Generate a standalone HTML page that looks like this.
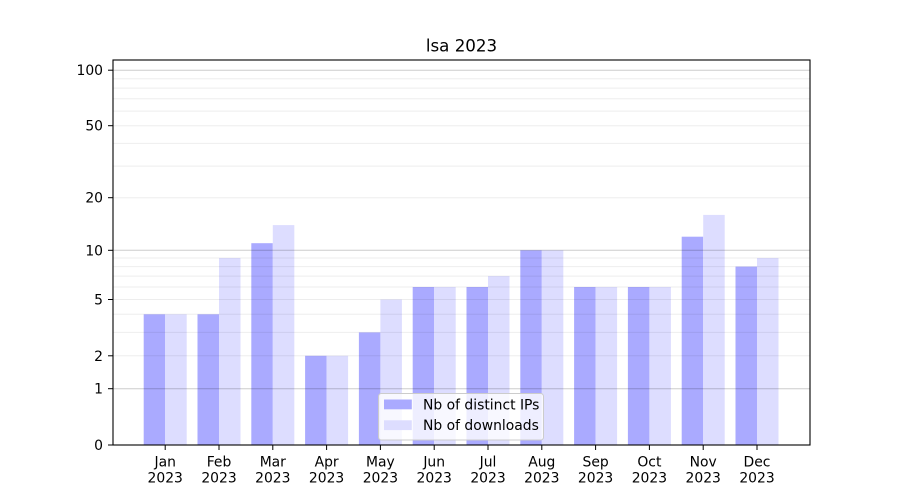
<!DOCTYPE html>
<html><head><meta charset="utf-8"><style>
html,body{margin:0;padding:0;background:#fff;}
svg{display:block;font-family:"DejaVu Sans","Liberation Sans",sans-serif;}
</style></head><body>
<svg width="900" height="500" viewBox="0 0 900 500" xmlns="http://www.w3.org/2000/svg">
<rect width="900" height="500" fill="#fff"/>
<!-- bars distinct IPs -->
<g fill="#aaaaff">
<rect x="143.7" y="314.3" width="21.5" height="130.7"/>
<rect x="197.5" y="314.3" width="21.5" height="130.7"/>
<rect x="251.3" y="243.2" width="21.5" height="201.8"/>
<rect x="305.1" y="355.8" width="21.5" height="89.2"/>
<rect x="358.9" y="332.4" width="21.5" height="112.6"/>
<rect x="412.7" y="287.0" width="21.5" height="158"/>
<rect x="466.5" y="287.0" width="21.5" height="158"/>
<rect x="520.3" y="250.3" width="21.5" height="194.7"/>
<rect x="574.1" y="287.0" width="21.5" height="158"/>
<rect x="627.9" y="287.0" width="21.5" height="158"/>
<rect x="681.7" y="236.7" width="21.5" height="208.3"/>
<rect x="735.5" y="266.6" width="21.5" height="178.4"/>
</g>
<!-- bars downloads -->
<g fill="#ddddff">
<rect x="165.2" y="314.3" width="21.5" height="130.7"/>
<rect x="219.0" y="258.0" width="21.5" height="187"/>
<rect x="272.8" y="225.1" width="21.5" height="219.9"/>
<rect x="326.6" y="355.8" width="21.5" height="89.2"/>
<rect x="380.4" y="299.5" width="21.5" height="145.5"/>
<rect x="434.2" y="287.0" width="21.5" height="158"/>
<rect x="488.0" y="276.1" width="21.5" height="168.9"/>
<rect x="541.8" y="250.3" width="21.5" height="194.7"/>
<rect x="595.6" y="287.0" width="21.5" height="158"/>
<rect x="649.4" y="287.0" width="21.5" height="158"/>
<rect x="703.2" y="214.9" width="21.5" height="230.1"/>
<rect x="757.0" y="258.0" width="21.5" height="187"/>
</g>
<!-- minor grid -->
<g stroke="#000" stroke-opacity="0.07" stroke-width="1">
<line x1="113" x2="810" y1="355.8" y2="355.8"/>
<line x1="113" x2="810" y1="332.4" y2="332.4"/>
<line x1="113" x2="810" y1="314.3" y2="314.3"/>
<line x1="113" x2="810" y1="299.5" y2="299.5"/>
<line x1="113" x2="810" y1="287.0" y2="287.0"/>
<line x1="113" x2="810" y1="276.1" y2="276.1"/>
<line x1="113" x2="810" y1="266.6" y2="266.6"/>
<line x1="113" x2="810" y1="258.0" y2="258.0"/>
<line x1="113" x2="810" y1="197.7" y2="197.7"/>
<line x1="113" x2="810" y1="166.1" y2="166.1"/>
<line x1="113" x2="810" y1="143.4" y2="143.4"/>
<line x1="113" x2="810" y1="125.7" y2="125.7"/>
<line x1="113" x2="810" y1="111.1" y2="111.1"/>
<line x1="113" x2="810" y1="98.8" y2="98.8"/>
<line x1="113" x2="810" y1="88.1" y2="88.1"/>
<line x1="113" x2="810" y1="78.7" y2="78.7"/>
</g>
<!-- major grid -->
<g stroke="#000" stroke-opacity="0.2" stroke-width="1">
<line x1="113" x2="810" y1="388.7" y2="388.7"/>
<line x1="113" x2="810" y1="250.3" y2="250.3"/>
<line x1="113" x2="810" y1="70.2" y2="70.2"/>
</g>
<!-- axes frame -->
<rect x="113" y="60" width="697" height="385" fill="none" stroke="#000" stroke-width="1.1"/>
<!-- y ticks -->
<g stroke="#000" stroke-width="1">
<line x1="108" x2="113" y1="445" y2="445"/>
<line x1="108" x2="113" y1="388.7" y2="388.7"/>
<line x1="108" x2="113" y1="355.8" y2="355.8"/>
<line x1="108" x2="113" y1="299.5" y2="299.5"/>
<line x1="108" x2="113" y1="250.3" y2="250.3"/>
<line x1="108" x2="113" y1="197.7" y2="197.7"/>
<line x1="108" x2="113" y1="125.7" y2="125.7"/>
<line x1="108" x2="113" y1="70.2" y2="70.2"/>
</g>
<g font-size="13.9" fill="#000" text-anchor="end">
<text x="103" y="450">0</text>
<text x="103" y="393.7">1</text>
<text x="103" y="360.8">2</text>
<text x="103" y="304.5">5</text>
<text x="103" y="255.3">10</text>
<text x="103" y="202.7">20</text>
<text x="103" y="130.7">50</text>
<text x="103" y="75.2">100</text>
</g>
<!-- x ticks -->
<g stroke="#000" stroke-width="1">
<line x1="165.2" x2="165.2" y1="445" y2="450"/>
<line x1="219.0" x2="219.0" y1="445" y2="450"/>
<line x1="272.8" x2="272.8" y1="445" y2="450"/>
<line x1="326.6" x2="326.6" y1="445" y2="450"/>
<line x1="380.4" x2="380.4" y1="445" y2="450"/>
<line x1="434.2" x2="434.2" y1="445" y2="450"/>
<line x1="488.0" x2="488.0" y1="445" y2="450"/>
<line x1="541.8" x2="541.8" y1="445" y2="450"/>
<line x1="595.6" x2="595.6" y1="445" y2="450"/>
<line x1="649.4" x2="649.4" y1="445" y2="450"/>
<line x1="703.2" x2="703.2" y1="445" y2="450"/>
<line x1="757.0" x2="757.0" y1="445" y2="450"/>
</g>
<g font-size="13.9" fill="#000" text-anchor="middle">
<text x="165.2" y="466.5">Jan</text><text x="165.2" y="482.5">2023</text>
<text x="219.0" y="466.5">Feb</text><text x="219.0" y="482.5">2023</text>
<text x="272.8" y="466.5">Mar</text><text x="272.8" y="482.5">2023</text>
<text x="326.6" y="466.5">Apr</text><text x="326.6" y="482.5">2023</text>
<text x="380.4" y="466.5">May</text><text x="380.4" y="482.5">2023</text>
<text x="434.2" y="466.5">Jun</text><text x="434.2" y="482.5">2023</text>
<text x="488.0" y="466.5">Jul</text><text x="488.0" y="482.5">2023</text>
<text x="541.8" y="466.5">Aug</text><text x="541.8" y="482.5">2023</text>
<text x="595.6" y="466.5">Sep</text><text x="595.6" y="482.5">2023</text>
<text x="649.4" y="466.5">Oct</text><text x="649.4" y="482.5">2023</text>
<text x="703.2" y="466.5">Nov</text><text x="703.2" y="482.5">2023</text>
<text x="757.0" y="466.5">Dec</text><text x="757.0" y="482.5">2023</text>
</g>
<!-- title -->
<text x="461.5" y="51.5" font-size="16.7" text-anchor="middle" fill="#000">lsa 2023</text>
<!-- legend -->
<rect x="378.5" y="393.5" width="165" height="46.5" rx="2.8" ry="2.8" fill="#fff" fill-opacity="0.8" stroke="#cccccc" stroke-width="1"/>
<rect x="384" y="399.5" width="27.8" height="9.8" fill="#aaaaff"/>
<rect x="384" y="420.3" width="27.8" height="9.8" fill="#ddddff"/>
<g font-size="13.9" fill="#000">
<text x="423" y="409.3">Nb of distinct IPs</text>
<text x="423" y="430">Nb of downloads</text>
</g>
</svg>
</body></html>
